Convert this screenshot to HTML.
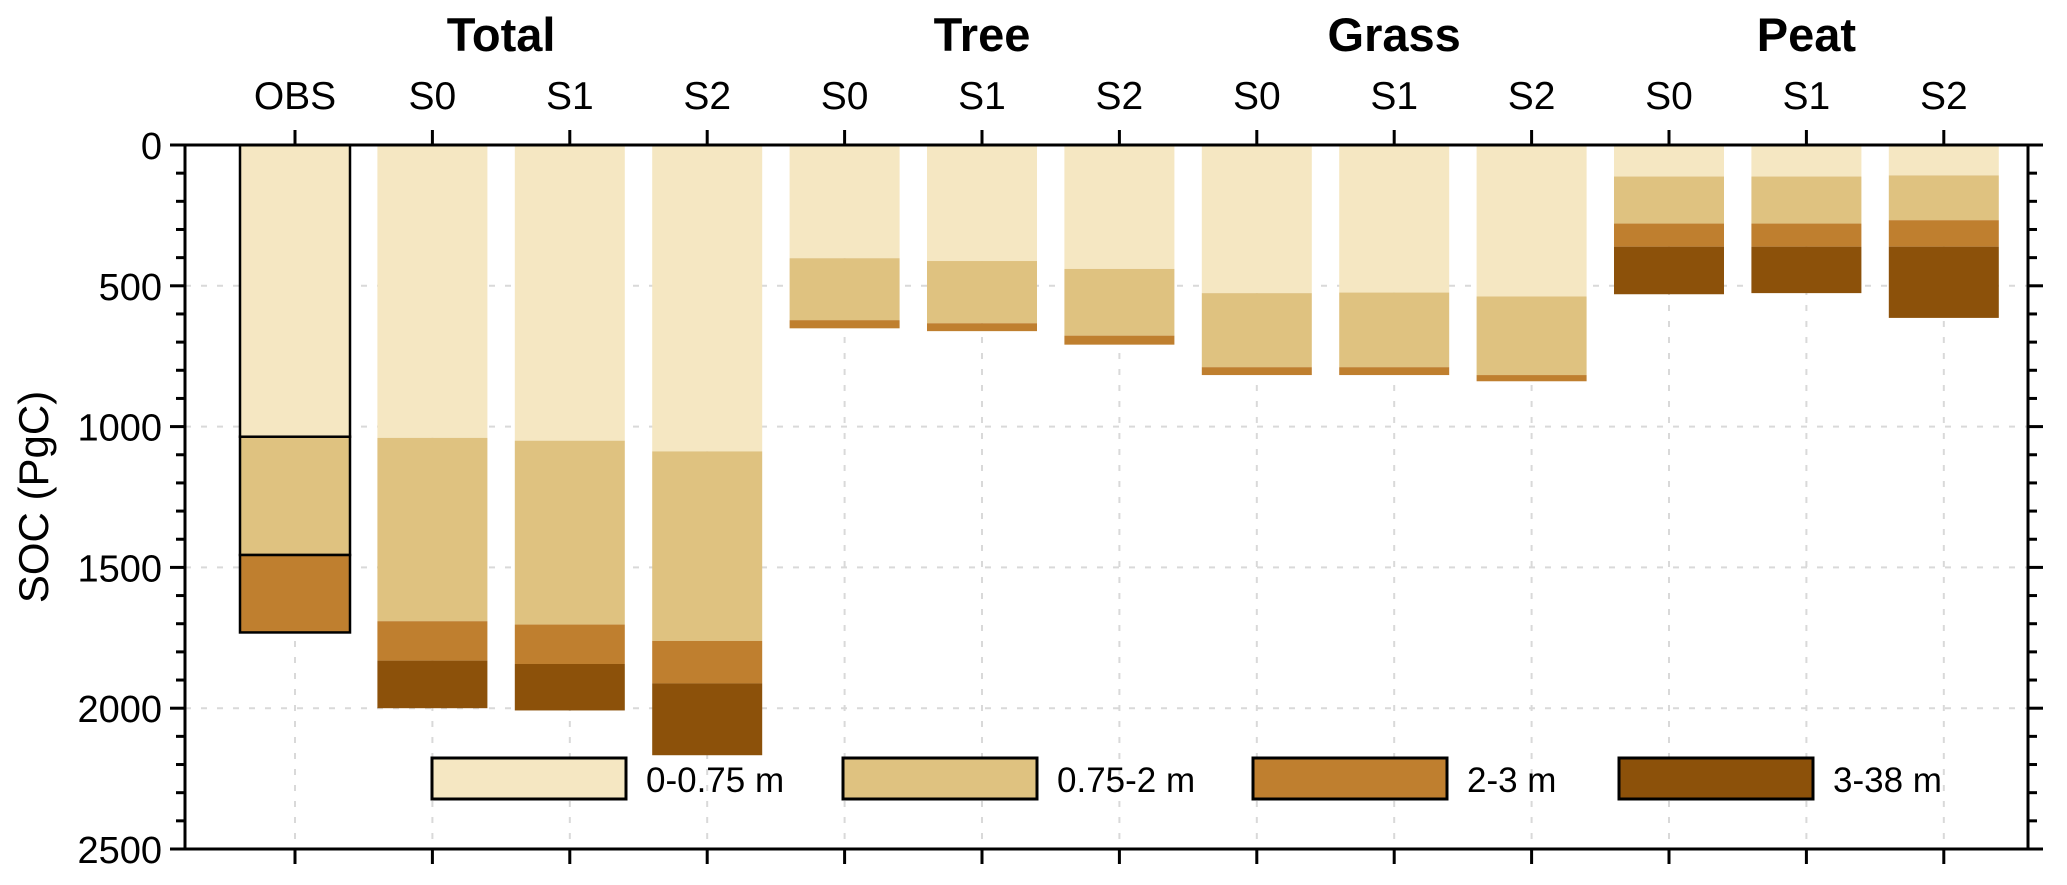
<!DOCTYPE html>
<html><head><meta charset="utf-8"><style>
html,body{margin:0;padding:0;background:#fff;}
svg{display:block;font-family:"Liberation Sans",Arial,sans-serif;}
</style></head><body>
<svg id="chart" width="2067" height="885" viewBox="0 0 2067 885" xmlns="http://www.w3.org/2000/svg"></svg>
<script>
const categories = ["OBS","S0","S1","S2","S0","S1","S2","S0","S1","S2","S0","S1","S2"];
const groups = ["Total","Tree","Grass","Peat"];
const groupSpans = [[0,3],[4,6],[7,9],[10,12]];
const layerNames = ["0-0.75 m","0.75-2 m","2-3 m","3-38 m"];
const layer1 = [1036,1040,1050,1088,402,412,440,526,524,538,112,112,108];
const layer2 = [420,651,653,673,220,221,237,263,265,279,167,167,159];
const layer3 = [275,140,140,151,29,28,32,28,28,22,82,82,94];
const layer4 = [0,169,165,255,0,0,0,0,0,0,169,165,253];
const yTicks = [0,500,1000,1500,2000,2500];

const colors = ["#f5e7c2","#dfc280","#bf7f2f","#8c510a"];
const svg = document.getElementById('chart');
const NS = "http://www.w3.org/2000/svg";
const L = 185, R = 2028, T = 145, B = 849;
const x0 = 295, dx = 137.4, bw = 110;
const yMax = 2500;
function xs(i){ return x0 + i*dx; }
function ys(v){ return T + v/yMax*(B-T); }
function mk(tag, attrs, parent){
  const e = document.createElementNS(NS, tag);
  for (const k in attrs) e.setAttribute(k, attrs[k]);
  (parent||svg).appendChild(e);
  return e;
}
const grid = mk('g', {});


yTicks.slice(1,-1).forEach(v => {
  mk('line', {x1:L, x2:R, y1:ys(v), y2:ys(v), stroke:'#d9d9d9', 'stroke-width':2, 'stroke-dasharray':'6 10'}, grid);
});
categories.forEach((c,i) => {
  mk('line', {x1:xs(i), x2:xs(i), y1:T, y2:B, stroke:'#d9d9d9', 'stroke-width':2, 'stroke-dasharray':'6 10'}, grid);
});
const layers = [layer1, layer2, layer3, layer4];
categories.forEach((c,i) => {
  const g = mk('g', {});
  
  
  let acc = 0;
  layers.forEach((arr, k) => {
    const v = arr[i];
    if (v <= 0) return;
    const r = mk('rect', {x:xs(i)-bw/2, y:ys(acc), width:bw, height:ys(acc+v)-ys(acc), fill:colors[k]}, g);
    if (i === 0) { r.setAttribute('stroke', '#000'); r.setAttribute('stroke-width', 2.5); }
    
    
    acc += v;
  });
});
const ax = mk('g', {stroke:'#000', 'stroke-width':3, fill:'none'});


mk('rect', {x:L, y:T, width:R-L, height:B-T}, ax);
for (let v = 0; v <= yMax; v += 100) {
  const major = v % 500 === 0;
  const len = major ? 15 : 9;
  mk('line', {x1:L-len, x2:L, y1:ys(v), y2:ys(v)}, ax);
  mk('line', {x1:R, x2:R+len, y1:ys(v), y2:ys(v)}, ax);
}
categories.forEach((c,i) => {
  mk('line', {x1:xs(i), x2:xs(i), y1:T-15, y2:T}, ax);
  mk('line', {x1:xs(i), x2:xs(i), y1:B, y2:B+15}, ax);
});
yTicks.forEach(v => {
  const t = mk('text', {x:162, y:ys(v)+14, 'text-anchor':'end', 'font-size':38, fill:'#000'});
  t.textContent = v;
  
  
});
categories.forEach((c,i) => {
  const t = mk('text', {x:xs(i), y:109, 'text-anchor':'middle', 'font-size':39, fill:'#000'});
  t.textContent = c;
  
  
});
groups.forEach((g,k) => {
  const cx = (xs(groupSpans[k][0]) + xs(groupSpans[k][1]))/2;
  const t = mk('text', {x:cx, y:51, 'text-anchor':'middle', 'font-size':47, 'font-weight':'bold', fill:'#000'});
  t.textContent = g;
  
  
});
const yt = mk('text', {x:0, y:0, transform:'translate(48,497) rotate(-90)', 'text-anchor':'middle', 'font-size':42, fill:'#000'});
yt.textContent = 'SOC (PgC)';


const legX = [432, 843, 1253, 1619];
layerNames.forEach((n,k) => {
  const g = mk('g', {});
  
  
  mk('rect', {x:legX[k], y:758, width:194, height:41, fill:colors[k], stroke:'#000', 'stroke-width':3}, g);
  const t = mk('text', {x:legX[k]+214, y:792, 'font-size':35, fill:'#000'}, g);
  t.textContent = n;
});
</script>
</body></html>
